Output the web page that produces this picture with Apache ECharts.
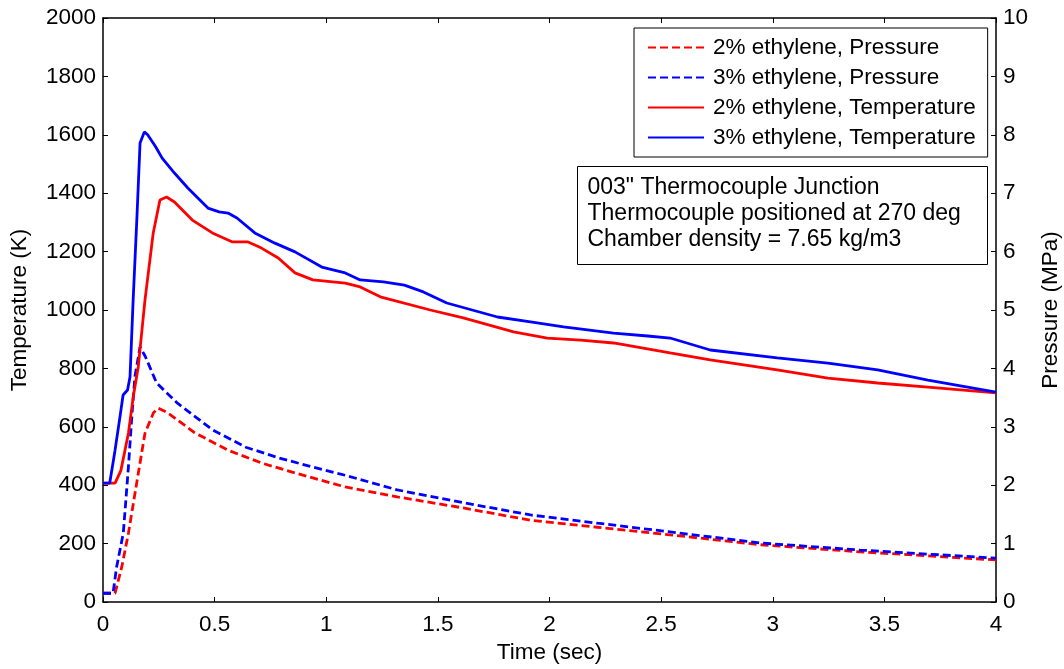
<!DOCTYPE html>
<html>
<head>
<meta charset="utf-8">
<script src="https://cdn.jsdelivr.net/npm/echarts@6/dist/echarts.min.js"></script>
<style>
html,body{margin:0;padding:0;background:#fff;}
#chart{width:1064px;height:669px;}
</style>
</head>
<body>
<div id="chart"></div>
<script>
// Time ticks / axis setup
const timeTicks = [0, 0.5, 1, 1.5, 2, 2.5, 3, 3.5, 4];

// 3% ethylene, Temperature (K)
const tTemp3 = [0, 0.03, 0.054, 0.076, 0.09, 0.11, 0.121, 0.135, 0.152, 0.166, 0.185, 0.2, 0.235, 0.265, 0.32, 0.38, 0.47, 0.52, 0.56, 0.6, 0.68, 0.77, 0.86, 0.98, 1.085, 1.152, 1.256, 1.35, 1.435, 1.54, 1.767, 1.915, 2.063, 2.287, 2.44, 2.54, 2.72, 3.02, 3.247, 3.47, 3.695, 4.0];
const temp3  = [407, 407, 520, 634, 709, 726, 771, 1034, 1318, 1572, 1610, 1600, 1560, 1520, 1469, 1418, 1349, 1336, 1332, 1315, 1264, 1229, 1199, 1147, 1127, 1103, 1096, 1085, 1062, 1024, 976, 959, 942, 921, 911, 904, 863, 836, 818, 795, 760, 719];

// 2% ethylene, Temperature (K)
const tTemp2 = [0, 0.054, 0.08, 0.114, 0.135, 0.158, 0.188, 0.225, 0.255, 0.285, 0.32, 0.4, 0.49, 0.58, 0.65, 0.71, 0.785, 0.86, 0.94, 1.085, 1.152, 1.242, 1.466, 1.614, 1.839, 1.99, 2.14, 2.287, 2.54, 2.72, 3.02, 3.247, 3.47, 3.695, 4.0];
const temp2  = [407, 407, 450, 579, 700, 806, 1034, 1264, 1377, 1387, 1370, 1308, 1264, 1233, 1233, 1212, 1178, 1127, 1103, 1092, 1079, 1045, 1000, 973, 925, 904, 897, 887, 853, 829, 795, 767, 750, 736, 716];

// 3% ethylene, Pressure (MPa)
const tPres3 = [0, 0.045, 0.061, 0.091, 0.114, 0.129, 0.143, 0.166, 0.19, 0.24, 0.335, 0.49, 0.64, 0.785, 0.94, 1.085, 1.318, 1.614, 1.915, 2.215, 2.54, 2.946, 3.39, 4.0];
const pres3  = [0.15, 0.15, 0.6, 1.18, 2.32, 3.17, 3.86, 4.37, 4.2, 3.75, 3.4, 2.95, 2.65, 2.47, 2.31, 2.17, 1.92, 1.7, 1.49, 1.35, 1.2, 1.01, 0.89, 0.75];

// 2% ethylene, Pressure (MPa)
const tPres2 = [0, 0.054, 0.084, 0.114, 0.151, 0.188, 0.226, 0.248, 0.29, 0.41, 0.56, 0.71, 0.86, 1.085, 1.318, 1.614, 1.915, 2.215, 2.54, 2.946, 3.39, 4.0];
const pres2  = [0.15, 0.15, 0.6, 1.18, 2.04, 2.89, 3.24, 3.32, 3.24, 2.9, 2.6, 2.38, 2.21, 1.97, 1.8, 1.61, 1.4, 1.28, 1.15, 0.98, 0.86, 0.72];

const seriesNames = ['2% ethylene, Pressure', '3% ethylene, Pressure', '2% ethylene, Temperature', '3% ethylene, Temperature'];
const noteLines = ['003" Thermocouple Junction', 'Thermocouple positioned at 270 deg', 'Chamber density = 7.65 kg/m3'];

function pairs(xs, ys) { return xs.map((x, i) => [x, ys[i]]); }

const FONT = 'Liberation Sans, Arial, sans-serif';
const FS = 22.5;
const NOTE_FS = 23;

const chart = echarts.init(document.getElementById('chart'), null, { renderer: 'canvas' });

const axisCommon = {
  axisLine: { show: true, onZero: false, lineStyle: { color: '#000', width: 1.5 } },
  axisTick: { show: true, inside: true, length: 5, lineStyle: { color: '#000', width: 1 } },
  splitLine: { show: false },
  axisLabel: { color: '#000', fontFamily: FONT, fontSize: FS },
  nameTextStyle: { color: '#000', fontFamily: FONT, fontSize: FS }
};

function lineSeries(name, data, color, dashed, yIdx, z) {
  return {
    name: name,
    type: 'line',
    data: data,
    yAxisIndex: yIdx,
    xAxisIndex: 0,
    symbol: 'none',
    showSymbol: false,
    smooth: false,
    z: z,
    lineStyle: { color: color, width: 2.8, type: dashed ? [8, 4] : 'solid' },
    itemStyle: { color: color },
    animation: false
  };
}

chart.setOption({
  animation: false,
  backgroundColor: '#fff',
  grid: { left: 103, right: 68, top: 18, bottom: 67, containLabel: false, outerBoundsMode: 'none' },
  xAxis: [
    Object.assign({}, axisCommon, {
      type: 'value', position: 'bottom', min: 0, max: 4, interval: 0.5,
      name: 'Time (sec)', nameLocation: 'middle', nameGap: 39,
      axisLabel: Object.assign({}, axisCommon.axisLabel, { margin: 11, formatter: v => String(v) })
    }),
    Object.assign({}, axisCommon, {
      type: 'value', position: 'top', min: 0, max: 4, interval: 0.5,
      axisLabel: { show: false }
    })
  ],
  yAxis: [
    Object.assign({}, axisCommon, {
      type: 'value', position: 'left', min: 0, max: 2000, interval: 200,
      name: 'Temperature (K)', nameLocation: 'middle', nameGap: 72,
      axisLabel: Object.assign({}, axisCommon.axisLabel, { margin: 7, formatter: v => String(v) })
    }),
    Object.assign({}, axisCommon, {
      type: 'value', position: 'right', min: 0, max: 10, interval: 1,
      name: 'Pressure (MPa)', nameLocation: 'middle', nameGap: 35,
      axisLabel: Object.assign({}, axisCommon.axisLabel, { margin: 7, formatter: v => String(v) })
    })
  ],
  legend: {
    orient: 'vertical',
    left: 634,
    top: 28,
    data: seriesNames,
    backgroundColor: '#fff',
    borderColor: '#000',
    borderWidth: 1,
    padding: [8, 12, 8, 13],
    itemWidth: 56,
    itemHeight: 14,
    itemGap: 7,
    selectedMode: false,
    itemStyle: { opacity: 0 },
    textStyle: { color: '#000', fontFamily: FONT, fontSize: FS, lineHeight: 23, padding: [0, 0, 0, 4] }
  },
  graphic: [{
    type: 'group',
    left: 577,
    top: 166,
    children: [
      { type: 'rect', shape: { x: 0, y: 0, width: 410, height: 98 }, style: { fill: '#fff', stroke: '#000', lineWidth: 1 } },
      { type: 'text', x: 10, y: 21, style: { text: noteLines[0], font: NOTE_FS + 'px ' + FONT, fill: '#000', textVerticalAlign: 'middle' } },
      { type: 'text', x: 10, y: 47, style: { text: noteLines[1], font: NOTE_FS + 'px ' + FONT, fill: '#000', textVerticalAlign: 'middle' } },
      { type: 'text', x: 10, y: 73, style: { text: noteLines[2], font: NOTE_FS + 'px ' + FONT, fill: '#000', textVerticalAlign: 'middle' } }
    ]
  }],
  series: [
    lineSeries(seriesNames[0], pairs(tPres2, pres2), '#ff0000', true, 1, 3),
    lineSeries(seriesNames[1], pairs(tPres3, pres3), '#0000ff', true, 1, 4),
    lineSeries(seriesNames[2], pairs(tTemp2, temp2), '#ff0000', false, 0, 5),
    lineSeries(seriesNames[3], pairs(tTemp3, temp3), '#0000ff', false, 0, 6)
  ]
});
</script>
</body>
</html>
